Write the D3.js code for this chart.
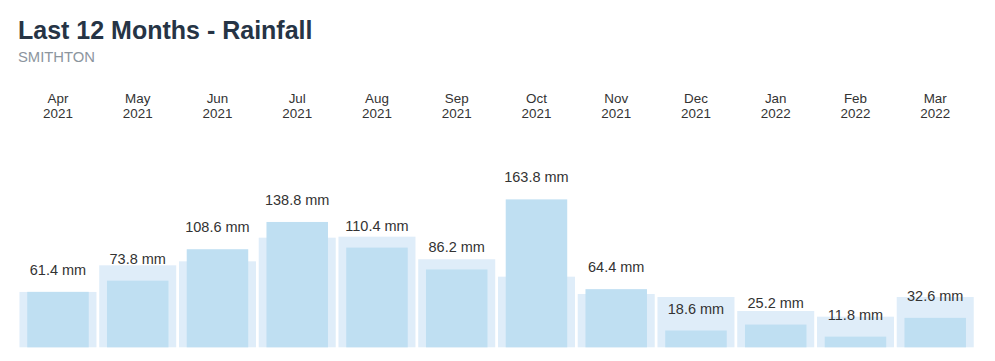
<!DOCTYPE html>
<html>
<head>
<meta charset="utf-8">
<script src="https://cdn.jsdelivr.net/npm/d3@7"></script>
<style>
  html, body { margin: 0; padding: 0; background: #fff; }
  svg { display: block; }
</style>
</head>
<body>
<svg id="chart" width="995" height="361"></svg>
<script>
const months = ["Apr","May","Jun","Jul","Aug","Sep","Oct","Nov","Dec","Jan","Feb","Mar"];
const years = ["2021","2021","2021","2021","2021","2021","2021","2021","2021","2022","2022","2022"];
const rainfall = [61.4, 73.8, 108.6, 138.8, 110.4, 86.2, 163.8, 64.4, 18.6, 25.2, 11.8, 32.6];
const average = [61.3, 90.8, 95.2, 121.4, 122.5, 97.5, 78.2, 59.0, 55.7, 40.2, 33.9, 55.7];

const svg = d3.select("#chart");
const font = "'Liberation Sans', Arial, sans-serif";

svg.append("text").attr("x", 18).attr("y", 39)
  .attr("font-family", font).attr("font-size", 25).attr("font-weight", "bold")
  .attr("fill", "#263445").text("Last 12 Months - Rainfall");
svg.append("text").attr("x", 18).attr("y", 62)
  .attr("font-family", font).attr("font-size", 14.8)
  .attr("fill", "#8c959e").text("SMITHTON");

const idx = d3.range(months.length);
const x = d3.scaleBand().domain(idx).range([18.1, 975.1]).padding(0);
const baseY = 347.3;
const y = d3.scaleLinear().domain([0, 200]).range([baseY, baseY - 180.6]);

const step = x.step();
const bgW = 77, fgW = 61.5;

// month axis labels
const lab = svg.append("g").attr("font-family", font).attr("font-size", 13.4).attr("fill", "#333").attr("text-anchor", "middle");
idx.forEach(i => {
  const cx = x(i) + step / 2;
  lab.append("text").attr("x", cx).attr("y", 102.5).text(months[i]);
  lab.append("text").attr("x", cx).attr("y", 117.5).text(years[i]);
});

// background (average) bars
svg.append("g").selectAll("rect").data(idx).join("rect")
  .attr("x", i => x(i) + step / 2 - bgW / 2)
  .attr("width", bgW)
  .attr("y", i => y(average[i]))
  .attr("height", i => baseY - y(average[i]))
  .attr("fill", "#dfedf9");

// foreground (actual) bars
svg.append("g").selectAll("rect").data(idx).join("rect")
  .attr("x", i => x(i) + step / 2 - fgW / 2)
  .attr("width", fgW)
  .attr("y", i => y(rainfall[i]))
  .attr("height", i => baseY - y(rainfall[i]))
  .attr("fill", "#bfdff2");

// value labels
svg.append("g").attr("font-family", font).attr("font-size", 14.5).attr("fill", "#333").attr("text-anchor", "middle")
  .selectAll("text").data(idx).join("text")
  .attr("x", i => x(i) + step / 2)
  .attr("y", i => y(rainfall[i]) - 17)
  .text(i => rainfall[i].toFixed(1) + " mm");
</script>
</body>
</html>
